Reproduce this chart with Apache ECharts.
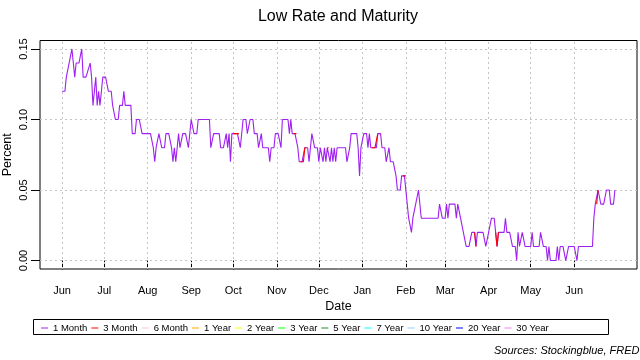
<!DOCTYPE html>
<html><head><meta charset="utf-8">
<script src="https://cdn.jsdelivr.net/npm/echarts@6/dist/echarts.min.js"></script>
<style>html,body{margin:0;padding:0;background:#fff}#c{width:640px;height:360px}</style>
</head><body><div id="c"></div>
<script>
const titleText = 'Low Rate and Maturity';
const sourceText = 'Sources: Stockingblue, FRED';

const dates = [
'2010-06-01','2010-06-03','2010-06-04','2010-06-05','2010-06-06','2010-06-07','2010-06-08','2010-06-09','2010-06-10','2010-06-11','2010-06-12','2010-06-13','2010-06-14','2010-06-15','2010-06-16','2010-06-17','2010-06-18','2010-06-19','2010-06-21','2010-06-22','2010-06-23','2010-06-24','2010-06-25','2010-06-26','2010-06-27','2010-06-28','2010-06-29','2010-06-30',
'2010-07-01','2010-07-02','2010-07-03','2010-07-04','2010-07-05','2010-07-06','2010-07-07','2010-07-08','2010-07-09','2010-07-10','2010-07-11','2010-07-12','2010-07-13','2010-07-14','2010-07-15','2010-07-16','2010-07-17','2010-07-18','2010-07-19','2010-07-20','2010-07-21','2010-07-22','2010-07-23','2010-07-24','2010-07-25','2010-07-26','2010-07-27','2010-07-28','2010-07-29','2010-07-30','2010-07-31',
'2010-08-01','2010-08-02','2010-08-03','2010-08-04','2010-08-05','2010-08-06','2010-08-07','2010-08-08','2010-08-09','2010-08-10','2010-08-11','2010-08-12','2010-08-13','2010-08-14','2010-08-15','2010-08-16','2010-08-17','2010-08-18','2010-08-19','2010-08-20','2010-08-21','2010-08-22','2010-08-23','2010-08-24','2010-08-25','2010-08-26','2010-08-27','2010-08-28','2010-08-29','2010-08-30','2010-08-31',
'2010-09-01','2010-09-02','2010-09-03','2010-09-04','2010-09-05','2010-09-06','2010-09-07','2010-09-08','2010-09-09','2010-09-10','2010-09-11','2010-09-12','2010-09-13','2010-09-14','2010-09-15','2010-09-16','2010-09-17','2010-09-18','2010-09-19','2010-09-20','2010-09-21','2010-09-22','2010-09-23','2010-09-24','2010-09-25','2010-09-26','2010-09-27','2010-09-28','2010-09-29','2010-09-30',
'2010-10-01','2010-10-02','2010-10-03','2010-10-04','2010-10-05','2010-10-06','2010-10-07','2010-10-08','2010-10-09','2010-10-10','2010-10-11','2010-10-12','2010-10-13','2010-10-14','2010-10-15','2010-10-16','2010-10-17','2010-10-18','2010-10-19','2010-10-20','2010-10-21','2010-10-22','2010-10-23','2010-10-24','2010-10-25','2010-10-26','2010-10-27','2010-10-28','2010-10-29','2010-10-30','2010-10-31',
'2010-11-01','2010-11-02','2010-11-03','2010-11-04','2010-11-05','2010-11-06','2010-11-07','2010-11-08','2010-11-09','2010-11-10','2010-11-11','2010-11-12','2010-11-13','2010-11-14','2010-11-15','2010-11-16','2010-11-17','2010-11-18','2010-11-19','2010-11-20','2010-11-21','2010-11-22','2010-11-23','2010-11-24','2010-11-25','2010-11-26','2010-11-27','2010-11-28','2010-11-29','2010-11-30',
'2010-12-01','2010-12-02','2010-12-03','2010-12-04','2010-12-05','2010-12-06','2010-12-07','2010-12-08','2010-12-09','2010-12-10','2010-12-11','2010-12-12','2010-12-13','2010-12-14','2010-12-15','2010-12-16','2010-12-17','2010-12-18','2010-12-19','2010-12-20','2010-12-21','2010-12-22','2010-12-23','2010-12-24','2010-12-25','2010-12-26','2010-12-27','2010-12-28','2010-12-29','2010-12-30','2010-12-31',
'2011-01-01','2011-01-02','2011-01-03','2011-01-04','2011-01-05','2011-01-06','2011-01-07','2011-01-08','2011-01-09','2011-01-10','2011-01-11','2011-01-12','2011-01-13','2011-01-14','2011-01-15','2011-01-16','2011-01-17','2011-01-18','2011-01-19','2011-01-20','2011-01-21','2011-01-22','2011-01-23','2011-01-24','2011-01-25','2011-01-26','2011-01-27','2011-01-28','2011-01-29','2011-01-30','2011-01-31',
'2011-02-01','2011-02-02','2011-02-03','2011-02-04','2011-02-05','2011-02-06','2011-02-07','2011-02-08','2011-02-09','2011-02-10','2011-02-11','2011-02-12','2011-02-13','2011-02-24','2011-02-25','2011-02-26','2011-02-27','2011-02-28',
'2011-03-01','2011-03-02','2011-03-03','2011-03-04','2011-03-05','2011-03-06','2011-03-07','2011-03-08','2011-03-09','2011-03-10','2011-03-11','2011-03-12','2011-03-13','2011-03-14','2011-03-15','2011-03-16','2011-03-17','2011-03-18','2011-03-19','2011-03-20','2011-03-21','2011-03-22','2011-03-23','2011-03-24','2011-03-25','2011-03-26','2011-03-27','2011-03-28','2011-03-29','2011-03-30','2011-03-31',
'2011-04-01','2011-04-02','2011-04-03','2011-04-04','2011-04-05','2011-04-06','2011-04-07','2011-04-08','2011-04-09','2011-04-10','2011-04-11','2011-04-12','2011-04-13','2011-04-14','2011-04-15','2011-04-16','2011-04-17','2011-04-18','2011-04-19','2011-04-20','2011-04-21','2011-04-22','2011-04-23','2011-04-24','2011-04-25','2011-04-26','2011-04-27','2011-04-28','2011-04-29','2011-04-30',
'2011-05-01','2011-05-02','2011-05-03','2011-05-04','2011-05-05','2011-05-06','2011-05-07','2011-05-08','2011-05-09','2011-05-10','2011-05-11','2011-05-12','2011-05-13','2011-05-14','2011-05-15','2011-05-16','2011-05-17','2011-05-18','2011-05-19','2011-05-20','2011-05-21','2011-05-22','2011-05-23','2011-05-24','2011-05-25','2011-05-26','2011-05-27','2011-05-28','2011-05-29','2011-05-30','2011-05-31',
'2011-06-01','2011-06-02','2011-06-03','2011-06-04','2011-06-05','2011-06-14','2011-06-15','2011-06-16','2011-06-17','2011-06-18','2011-06-19','2011-06-20','2011-06-21','2011-06-22','2011-06-23','2011-06-24','2011-06-25','2011-06-26','2011-06-27','2011-06-28','2011-06-29','2011-06-30'
];

const oneMonth = [
.12,.12,.13,.13,.14,.14,.15,.14,.13,.14,.14,.14,.14,.15,.13,.13,.13,.13,.14,.13,.11,.11,.13,.11,.12,.11,.12,.13,
.13,.13,.13,.12,.12,.12,.11,.11,.10,.10,.10,.11,.11,.11,.12,.11,.11,.11,.11,.11,.09,.09,.09,.10,.10,.10,.10,.09,.09,.09,.09,
.09,.09,.09,.09,.08,.07,.08,.08,.09,.09,.08,.08,.08,.09,.09,.09,.09,.08,.07,.08,.07,.08,.09,.08,.08,.09,.09,.09,.09,.08,.08,
.10,.10,.09,.09,.09,.10,.10,.10,.10,.10,.10,.10,.10,.10,.08,.08,.09,.09,.09,.09,.09,.08,.08,.08,.08,.09,.08,.09,.07,.09,
.09,.09,.09,.09,.09,.08,.08,.10,.10,.10,.09,.09,.10,.10,.10,.09,.09,.09,.08,.08,.09,.08,.08,.08,.08,.08,.07,.08,.08,.08,.09,
.09,.09,.09,.08,.10,.10,.10,.10,.10,.09,.10,.09,.09,.09,.09,.08,.07,.07,.07,.07,.08,.08,.08,.07,.08,.09,.09,.08,.08,.08,
.07,.08,.08,.07,.08,.07,.08,.08,.07,.08,.07,.08,.07,.08,.08,.08,.08,.08,.08,.08,.07,.07,.08,.09,.09,.09,.09,.09,.08,.06,.08,
.08,.09,.09,.09,.08,.09,.08,.08,.08,.08,.08,.09,.09,.09,.08,.08,.08,.07,.07,.08,.07,.07,.07,.07,.06,.05,.05,.05,.06,.06,.06,
.06,.04,.03,.03,.02,.03,.03,.04,.04,.05,.05,.03,.03,.03,.04,.04,.03,.03,
.03,.04,.03,.04,.04,.04,.04,.04,.03,.04,.04,.03,.03,.02,.02,.01,.01,.01,.01,.02,.02,.02,.01,.02,.02,.02,.02,.02,.02,.01,.01,
.02,.02,.03,.03,.03,.02,.01,.02,.02,.02,.02,.02,.03,.02,.02,.02,.02,.01,.01,.01,.00,.02,.01,.01,.02,.02,.01,.01,.01,.01,
.01,.02,.01,.01,.01,.01,.01,.02,.02,.01,.01,.01,.00,.01,.00,.00,.00,.00,.00,.01,.00,.01,.01,.01,.01,.00,.00,.01,.01,.01,.01,
.01,.01,.00,.01,.01,.01,.03,.04,.04,.05,.05,.04,.04,.04,.04,.05,.05,.05,.04,.04,.04,.05
];

// dates on which the 3 Month rate is the low rate
const threeMonthDates = [
'2010-10-01','2010-10-02','2010-10-03','2010-10-04','2010-10-05',
'2010-11-13','2010-11-14','2010-11-15',
'2010-11-18','2010-11-19','2010-11-20','2010-11-21','2010-11-22',
'2010-12-07','2010-12-08',
'2011-01-08','2011-01-09','2011-01-10','2011-01-11','2011-01-12',
'2011-01-30','2011-01-31','2011-02-01',
'2011-03-22','2011-03-23',
'2011-04-06','2011-04-07','2011-04-08',
'2011-06-17','2011-06-18'
];
const threeMonth = [
.09,.09,.09,.09,.09,
.09,.09,.09,
.07,.07,.07,.08,.08,
.08,.08,
.08,.08,.08,.08,.09,
.06,.06,.06,
.02,.01,
.02,.01,.02,
.04,.05
];

const seriesNames = ['1 Month','3 Month','6 Month','1 Year','2 Year','3 Year','5 Year','7 Year','10 Year','20 Year','30 Year'];
const seriesColors = ['#A020F0','#FF0000','#FFC0CB','#FFA500','#FFFF00','#00FF00','#228B22','#00FFFF','#87CEFA','#0000FF','#EE82EE'];

const tickDates = ['2010-06-01','2010-07-01','2010-08-01','2010-09-01','2010-10-01','2010-11-01','2010-12-01','2011-01-01','2011-02-01','2011-03-01','2011-04-01','2011-05-01','2011-06-01'];
const tickLabels = ['Jun','Jul','Aug','Sep','Oct','Nov','Dec','Jan','Feb','Mar','Apr','May','Jun'];
const yTicks = [0, 0.05, 0.10, 0.15];

const FONT = '"Liberation Sans", Arial, Helvetica, sans-serif';
const ts = s => { const p = s.split('-'); return Date.UTC(+p[0], +p[1] - 1, +p[2]); };
const xt = tickDates.map(ts);
const t0 = ts(dates[0]), t1 = ts(dates[dates.length - 1]);
const xPad = (t1 - t0) * 0.04;
const yPad = (0.15 - 0) * 0.04;

const oneData = dates.map((d, i) => [ts(d), oneMonth[i]]);
const threeData = dates.map(d => { const k = threeMonthDates.indexOf(d); return [ts(d), k >= 0 ? threeMonth[k] : null]; });

const gridLine = {color: '#c4c4c4', type: [2, 3], width: 1};

const series = seriesNames.map((n, i) => ({
  name: n, type: 'line', color: seriesColors[i], itemStyle: {color: seriesColors[i]},
  showSymbol: false, symbol: 'none', clip: false, connectNulls: false, z: 5 + i,
  lineStyle: {color: seriesColors[i], width: 1.1},
  data: i === 0 ? oneData : (i === 1 ? threeData : [])
}));
series.push({
  name: 'gridlines', type: 'line', data: [], silent: true, z: 1,
  markLine: {silent: true, symbol: ['none', 'none'], label: {show: false}, lineStyle: gridLine, animation: false,
    data: xt.map(t => ({xAxis: t})).concat(yTicks.map(v => ({yAxis: v})))}
});

const chart = echarts.init(document.getElementById('c'), null, {renderer: 'canvas'});
chart.setOption({
  animation: false,
  backgroundColor: '#fff',
  title: {text: titleText, left: 338, top: 9, textAlign: 'center', padding: 0,
    textStyle: {fontFamily: FONT, fontSize: 16, fontWeight: 'normal', color: '#000'}},
  grid: {left: 40, right: 3, top: 40.5, bottom: 91, show: true, borderColor: '#000', borderWidth: 1,
    backgroundColor: 'transparent', containLabel: false, outerBoundsMode: 'none'},
  xAxis: {
    type: 'value', min: t0 - xPad, max: t1 + xPad, scale: true,
    axisLine: {show: false}, splitLine: {show: false},
    axisTick: {show: true, customValues: xt, length: 9, lineStyle: {color: '#000', width: 1}},
    axisLabel: {customValues: xt, margin: 16, color: '#000', fontSize: 11, fontFamily: FONT,
      formatter: v => tickLabels[xt.indexOf(v)] || ''},
    name: 'Date', nameLocation: 'middle', nameGap: 31, nameMoveOverlap: false,
    nameTextStyle: {fontFamily: FONT, fontSize: 12.5, color: '#000'}
  },
  yAxis: {
    type: 'value', min: 0 - yPad, max: 0.15 + yPad,
    axisLine: {show: false}, splitLine: {show: false},
    axisTick: {show: true, customValues: yTicks, length: 9, lineStyle: {color: '#000', width: 1}},
    axisLabel: {customValues: yTicks, rotate: 90, margin: 11, color: '#000', fontSize: 11, fontFamily: FONT,
      formatter: v => v.toFixed(2)},
    name: 'Percent', nameLocation: 'middle', nameGap: 26, nameRotate: 90, nameMoveOverlap: false,
    nameTextStyle: {fontFamily: FONT, fontSize: 12.5, color: '#000'}
  },
  legend: {
    data: seriesNames, left: 41, top: 323, padding: 0, itemGap: 4, itemWidth: 7, itemHeight: 1,
    icon: 'rect', selectedMode: false,
    formatter: n => '{t|' + n + '}',
    textStyle: {fontFamily: FONT, fontSize: 9.5, color: '#000',
      rich: {t: {width: 36, fontFamily: FONT, fontSize: 9.5, color: '#000'}}}
  },
  graphic: [
    {type: 'rect', shape: {x: 33.5, y: 319.5, width: 575, height: 15}, style: {fill: 'none', stroke: '#000', lineWidth: 1}, silent: true},
    {type: 'text', x: 639.5, y: 351, silent: true,
      style: {text: sourceText, font: 'italic 11px ' + FONT, fill: '#000', align: 'right', verticalAlign: 'middle', textAlign: 'right', textVerticalAlign: 'middle'}}
  ],
  series: series
});
</script>
</body></html>
